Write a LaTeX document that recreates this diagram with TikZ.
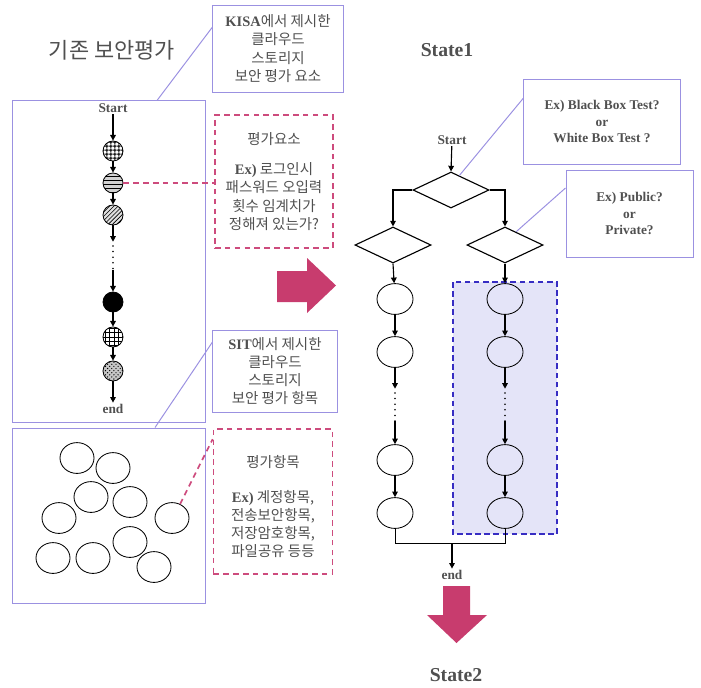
\documentclass[tikz,border=0pt]{standalone}
\usepackage{fontspec}
\setmainfont{Liberation Serif}
\newfontfamily\kr{Noto Sans CJK KR}
\usetikzlibrary{shapes.geometric,patterns,arrows.meta}
\definecolor{boxblue}{RGB}{155, 145, 225}
\definecolor{dashpink}{RGB}{205, 75, 125}
\definecolor{arrowpink}{RGB}{200, 60, 110}
\definecolor{lavender}{RGB}{228, 228, 248}
\definecolor{lavenderline}{RGB}{55, 45, 195}
\definecolor{txtgray}{RGB}{80, 80, 80}
\newcommand\engtxt[1]{{\normalfont\bfseries #1}}
\pgfdeclarepatternformonly{densegrid}{\pgfpointorigin}{\pgfqpoint{3pt}{3pt}}{\pgfqpoint{3pt}{3pt}}{%
    \pgfsetlinewidth{0.9pt}%
    \pgfpathmoveto{\pgfqpoint{0pt}{1.5pt}}\pgfpathlineto{\pgfqpoint{3pt}{1.5pt}}%
    \pgfpathmoveto{\pgfqpoint{1.5pt}{0pt}}\pgfpathlineto{\pgfqpoint{1.5pt}{3pt}}%
    \pgfusepath{stroke}}

\begin{document}
\begin{tikzpicture}[x=0.025cm, y=-0.025cm,
    lbl/.style={text=txtgray, font=\bfseries\fontsize{9.5}{11.5}\selectfont, inner sep=1pt},
    krbox/.style={text=txtgray, font=\kr\fontsize{10.3}{12.9}\selectfont, align=center, inner sep=0pt},
    bluebox/.style={krbox, draw=boxblue, line width=0.7pt},
    pinkbox/.style={krbox, draw=dashpink, dash pattern=on 4pt off 3pt, line width=1.2pt},
    callout/.style={boxblue, line width=0.7pt},
    pinkline/.style={dashpink, dash pattern=on 4pt off 3pt, line width=1.2pt},
    ball/.style={circle, draw, semithick, minimum size=0.5cm, inner sep=0pt},
    ring/.style={ellipse, draw, semithick, minimum width=0.85cm, minimum height=0.77cm, inner sep=0pt},
    flowring/.style={ellipse, draw, semithick, fill=white, minimum width=0.9cm, minimum height=0.77cm, inner sep=0pt},
    decide/.style={diamond, draw, thick, minimum width=1.9cm, minimum height=0.9cm, inner sep=0pt},
    gap/.style={minimum width=2pt, inner sep=0pt},
    arr/.style={-{Triangle[length=4pt,width=4pt]}, thick},
    dotline/.style={line width=1.2pt, line cap=round, dash pattern=on 0pt off 4pt, shorten <=3pt}]
    \useasboundingbox (0,0) rectangle (701,687);

    % left side: existing evaluation
    \node[text=txtgray, font=\kr\fontsize{15.6}{18}\selectfont] (title) at (112,50) {기존 보안평가};
    \node[draw=boxblue, line width=0.7pt, minimum width=4.8cm, minimum height=8.025cm] (oldbox) at (109,261.5) {};
    \node[draw=boxblue, line width=0.7pt, minimum width=4.8cm, minimum height=4.375cm] (itembox) at (109,515.5) {};

    \node[lbl] (ostart) at (113,108) {Start};
    \node[ball, pattern=densegrid]                                    (c1) at (113,151) {};
    \node[ball, fill=gray!35, postaction={pattern=horizontal lines}]  (c2) at (113,183) {};
    \node[ball, fill=gray!25, postaction={pattern=north east lines}]  (c3) at (113,215) {};
    \node[gap, minimum height=0.7cm]                                  (odots) at (113,256) {};
    \node[ball, fill=black]                                           (c4) at (113,302) {};
    \node[ball, pattern=grid]                                         (c5) at (113,337) {};
    \node[ball, fill=gray!45, postaction={pattern=crosshatch dots}]   (c6) at (113,371) {};
    \node[lbl] (oend) at (113,409) {end};

    \draw[arr] (ostart) -- (c1);
    \draw[arr] (c1) -- (c2);
    \draw[arr] (c2) -- (c3);
    \draw[arr] (c3) -- (odots.north);
    \draw[dotline] (odots.north) -- (odots.south);
    \draw[arr] (odots.south) -- (c4);
    \draw[arr] (c4) -- (c5);
    \draw[arr] (c5) -- (c6);
    \draw[arr] (c6) -- (oend);

    \foreach \name/\px/\py in {i1/77/458, i2/113/468, i3/91/497, i4/130/502, i5/59/518,
                               i6/172/518, i7/130/542, i8/53/558, i9/93/558, i10/154/567}
        \node[ring] (\name) at (\px,\py) {};

    % callouts of the left side
    \node[bluebox, minimum width=3.25cm, minimum height=2.175cm] (kisa) at (278,48.5)
        {\engtxt{KISA}에서 제시한\\클라우드\\스토리지\\보안 평가 요소};
    \node[pinkbox, minimum width=2.95cm, minimum height=3.325cm] (evalelem) at (274,181.5)
        {평가요소\\[8.5pt]\engtxt{Ex)} 로그인시\\패스워드 오입력\\횟수 임계치가\\정해져 있는가?};
    \node[bluebox, minimum width=3.1cm, minimum height=2.05cm] (sit) at (275,371)
        {\engtxt{SIT}에서 제시한\\클라우드\\스토리지\\보안 평가 항목};
    \node[pinkbox, minimum width=2.975cm, minimum height=3.625cm] (evalitem) at (273,501.5)
        {\\[3pt]평가항목\\[12pt]\engtxt{Ex)} 계정항목,\\전송보안항목,\\저장암호항목,\\파일공유 등등};

    \draw[callout]  ([yshift=0.5375cm]kisa.west) -- ([xshift=1.2cm]oldbox.north);
    \draw[callout]  ([yshift=0.725cm]sit.west) -- ([xshift=1.15cm]itembox.north);
    \draw[pinkline] (c2.east) -- (c2.east -| evalelem.west);
    \draw[pinkline] (i6.60) -- ([yshift=-0.275cm]evalitem.north west);

    % arrows between states
    \fill[arrowpink] (277,271) -- (307,271) -- (307,258) -- (336,285.5) -- (307,313) -- (307,302) -- (277,302) -- cycle;
    \fill[arrowpink] (443,586) -- (470,586) -- (470,615) -- (487,615) -- (456.5,643) -- (427,615) -- (443,615) -- cycle;

    % right side: state 1
    \node[text=txtgray, font=\bfseries\fontsize{14}{16}\selectfont] (state1) at (447,50) {State1};
    \node[text=txtgray, font=\bfseries\fontsize{14}{16}\selectfont] (state2) at (456,675) {State2};

    \fill[lavender] (453,282) rectangle (557,534);
    \draw[lavenderline, thick, dash pattern=on 4pt off 2.5pt] (453,282) rectangle (557,534);

    \node[lbl] (fstart) at (452,140) {Start};
    \node[decide] (d1) at (451,190) {};
    \node[decide] (d2) at (393,245) {};
    \node[decide] (d3) at (505,245) {};

    \node[flowring] (l1) at (395,299) {};
    \node[flowring] (l2) at (395,352) {};
    \node[gap, minimum height=0.8cm] (ldots) at (395,405) {};
    \node[flowring] (l3) at (395,460) {};
    \node[flowring] (l4) at (395,513) {};

    \node[flowring, fill=lavender] (r1) at (505,299) {};
    \node[flowring, fill=lavender] (r2) at (505,352) {};
    \node[gap, minimum height=0.8cm] (rdots) at (505,405) {};
    \node[flowring, fill=lavender] (r3) at (505,460) {};
    \node[flowring, fill=lavender] (r4) at (505,513) {};

    \coordinate (join) at (452,543);
    \node[lbl] (fend) at (452,575) {end};

    \draw[arr] (fstart) -- (d1.north);
    \draw[arr] (d1.west) -| (d2.north);
    \draw[arr] (d1.east) -| (d3.north);
    \draw[arr] (d2.south) -- (l1);
    \draw[arr] (l1) -- (l2);
    \draw[arr] (l2) -- (ldots.north);
    \draw[dotline] (ldots.north) -- (ldots.south);
    \draw[arr] (ldots.south) -- (l3);
    \draw[arr] (l3) -- (l4);
    \draw[arr] (d3.south) -- (r1);
    \draw[arr] (r1) -- (r2);
    \draw[arr] (r2) -- (rdots.north);
    \draw[dotline] (rdots.north) -- (rdots.south);
    \draw[arr] (rdots.south) -- (r3);
    \draw[arr] (r3) -- (r4);
    \draw (l4.south) |- (join) -| (r4.south);
    \draw[arr] (join) -- (fend);

    % callouts of the right side
    \node[bluebox, font=\bfseries\fontsize{9.5}{11.7}\selectfont, minimum width=3.9cm, minimum height=2.125cm] (blackbox) at (602,121.5)
        {Ex) Black Box Test?\\or\\White Box Test ?};
    \node[bluebox, font=\bfseries\fontsize{9.5}{11.7}\selectfont, minimum width=3.175cm, minimum height=2.175cm] (public) at (629.5,213.5)
        {Ex) Public?\\or\\Private?};
    \draw[callout] (d1.60) -- ([yshift=0.5875cm]blackbox.west);
    \draw[callout] (d3.50) -- ([yshift=0.6375cm]public.west);
\end{tikzpicture}
\end{document}
